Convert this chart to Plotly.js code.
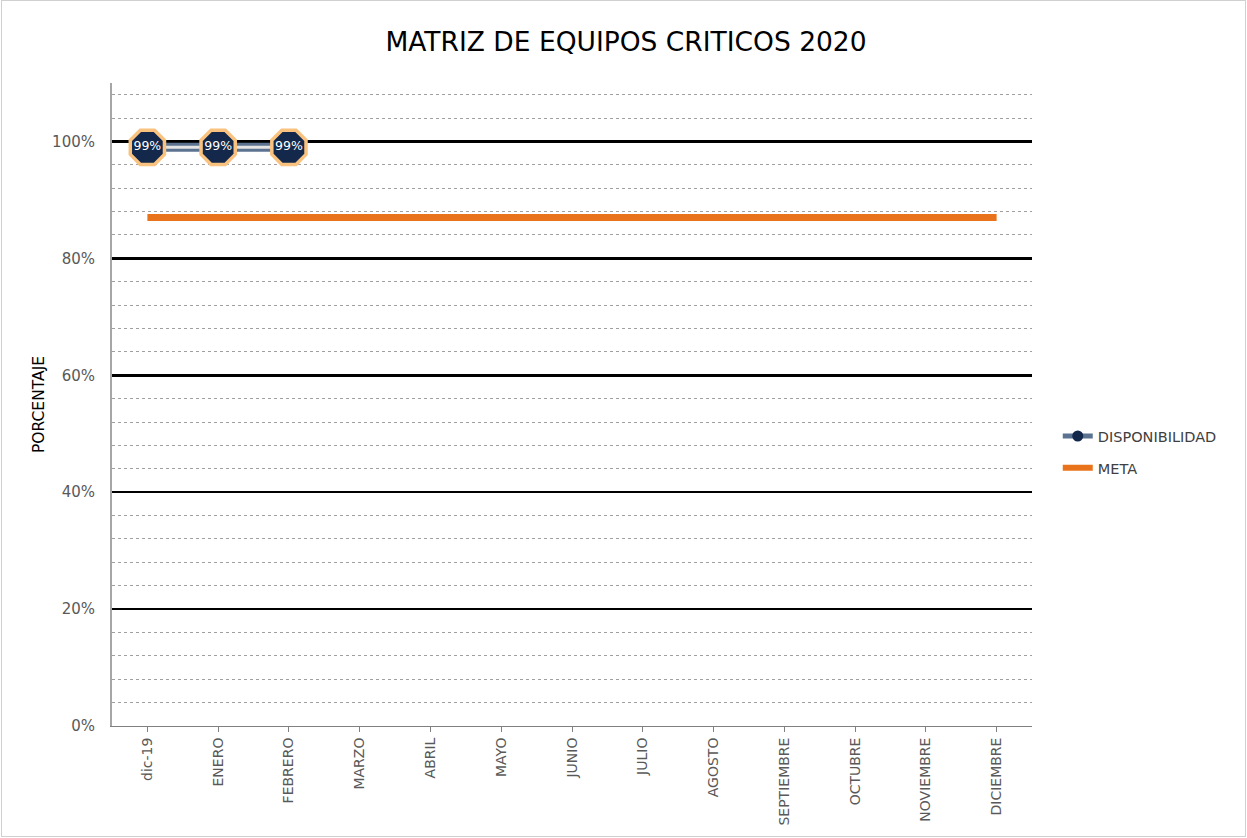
<!DOCTYPE html>
<html>
<head>
<meta charset="utf-8">
<script src="https://cdn.plot.ly/plotly-3.0.1.min.js"></script>
<style>
body{margin:0;padding:0;background:#fff;}
#wrap{position:relative;width:1247px;height:838px;}
#chart{width:1247px;height:838px;}
#frame{position:absolute;left:1px;top:0px;width:1243px;height:835px;border:1px solid #d0d0d0;pointer-events:none;}
</style>
</head>
<body>
<div id="wrap"><div id="chart"></div><div id="frame"></div></div>
<script>
const months = ["dic-19","ENERO","FEBRERO","MARZO","ABRIL","MAYO","JUNIO","JULIO","AGOSTO","SEPTIEMBRE","OCTUBRE","NOVIEMBRE","DICIEMBRE"];
const dispMonths = ["dic-19","ENERO","FEBRERO"];
const disponibilidad = [99,99,99];
const dispLabels = ["99%","99%","99%"];
const meta = [87,87,87,87,87,87,87,87,87,87,87,87,87];

const FONT = "DejaVu Sans";
const traces = [
  {x: months, y: meta, type:'scatter', mode:'lines', name:'META', showlegend:false,
   line:{color:'#e8731a', width:7}, hoverinfo:'skip'},
  {x: dispMonths, y: disponibilidad, type:'scatter', mode:'lines', showlegend:false,
   line:{color:'#5b7291', width:9}, hoverinfo:'skip'},
  {x: dispMonths, y: disponibilidad, type:'scatter', mode:'lines', showlegend:false,
   line:{color:'#e4e4e4', width:3}, hoverinfo:'skip'},
  {x: dispMonths, y: disponibilidad, type:'scatter', mode:'markers+text', showlegend:false,
   text: dispLabels, textposition:'middle center',
   textfont:{family:FONT, size:12.5, color:'#ffffff'},
   marker:{symbol:'octagon', size:37, color:'#13284a', line:{color:'#f9c27e', width:3.5}}},
  {x:[null], y:[null], type:'scatter', mode:'lines+markers', name:'DISPONIBILIDAD', legendgroup:'a',
   line:{color:'#5b7291', width:5}, marker:{symbol:'circle', size:11, color:'#13284a'}},
  {x:[null], y:[null], type:'scatter', mode:'lines', name:'META', legendgroup:'b',
   line:{color:'#e8731a', width:6}}
];

const layout = {
  width:1247, height:838,
  margin:{l:112, r:215, t:83, b:112},
  paper_bgcolor:'#ffffff', plot_bgcolor:'#ffffff',
  font:{family:FONT, color:'#595959'},
  title:{text:'MATRIZ DE EQUIPOS CRITICOS 2020', x:0.502, xref:'container', y:0.95, yref:'container', yanchor:'middle',
    font:{family:FONT, size:26.5, color:'#000000'}},
  xaxis:{type:'category', categoryorder:'array', categoryarray:months, range:[-0.5,12.5],
    tickangle:-90, ticks:'outside', ticklen:5, tickcolor:'#808080',
    tickfont:{family:FONT, size:14, color:'#595959'},
    showgrid:false, showline:true, linecolor:'#808080', linewidth:1, zeroline:false},
  yaxis:{range:[0,110], dtick:20, tick0:0, ticksuffix:'%',
    tickfont:{family:FONT, size:15, color:'#595959'}, ticklabelstandoff:12,
    showgrid:true, gridcolor:'#000000', gridwidth:2.5,
    zeroline:true, zerolinecolor:'#000000', zerolinewidth:3,
    showline:true, linecolor:'#a6a6a6', linewidth:2,
    minor:{dtick:4, tick0:0, showgrid:true, gridcolor:'#a0a0a0', griddash:'dot', gridwidth:1},
    title:{text:'PORCENTAJE', standoff:4, font:{family:FONT, size:15.5, color:'#000000'}}},
  legend:{x:1.028, xanchor:'left', y:0.426, yanchor:'middle', bgcolor:'rgba(0,0,0,0)',
    font:{family:FONT, size:14.5, color:'#404040'}, tracegroupgap:10},
  showlegend:true
};

Plotly.newPlot('chart', traces, layout, {displayModeBar:false, staticPlot:true});
</script>
</body>
</html>
